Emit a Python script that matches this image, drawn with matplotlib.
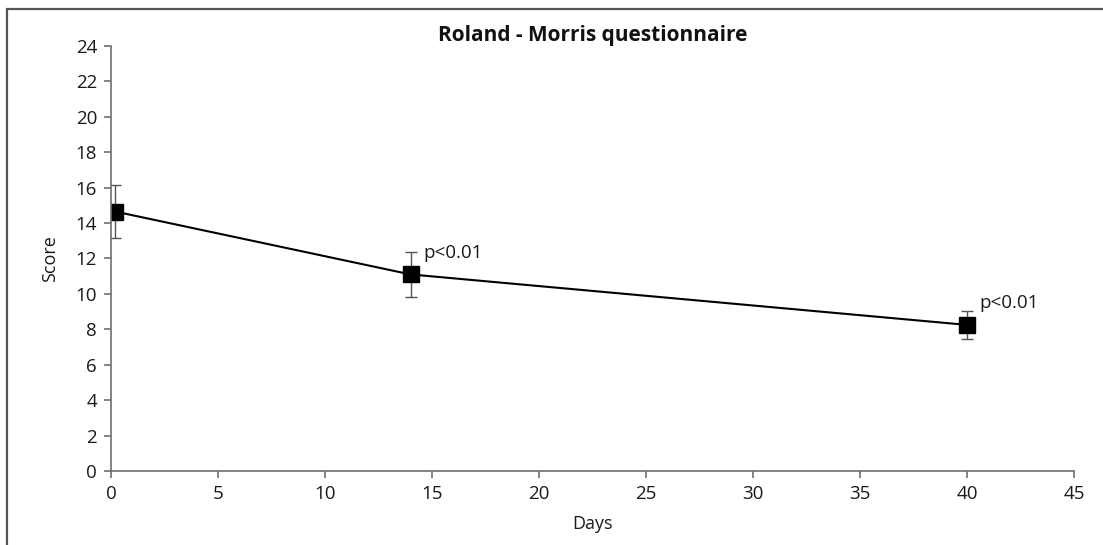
import matplotlib.pyplot as plt
from matplotlib.patches import Rectangle

days = [0.2, 14, 40]
score = [14.65, 11.1, 8.25]
score_err = [1.5, 1.25, 0.8]
notes = ["", "p<0.01", "p<0.01"]

plt.rcParams["font.family"] = ["Open Sans", "DejaVu Sans"]
grey = "#6e6e6e"
txt = "#1a1a1a"

fig = plt.figure(figsize=(11.03, 5.45), dpi=100)
ax = fig.add_axes([0.1006, 0.1358, 0.8731, 0.7798])

# outer frame around the figure
fig.patches.append(Rectangle((7 / 1103, -0.05), 1.1, 1.05 - 9 / 545,
                             transform=fig.transFigure, fill=False,
                             edgecolor="#555555", linewidth=1.6))

ax.errorbar(days, score, yerr=score_err, color="black", linewidth=1.5,
            marker="s", markersize=11, ecolor="#555555", elinewidth=1,
            capsize=4, capthick=1)

for x, y, t in zip(days, score, notes):
    if t:
        ax.annotate(t, xy=(x, y), xytext=(9, 9), textcoords="offset points",
                    fontsize=13.5, color=txt, ha="left", va="bottom")

ax.set_xlim(0, 45)
ax.set_ylim(0, 24)
ax.set_xticks(range(0, 46, 5))
ax.set_yticks(range(0, 25, 2))
for s in ["top", "right"]:
    ax.spines[s].set_visible(False)
for s in ["left", "bottom"]:
    ax.spines[s].set_color(grey)
    ax.spines[s].set_linewidth(1.2)
ax.tick_params(colors=grey, labelcolor=txt, labelsize=13.5,
               length=5, width=1.2, pad=5)

ax.set_title("Roland - Morris questionnaire", fontsize=15, fontweight="bold",
             color="#111111", pad=3)
ax.set_xlabel("Days", fontsize=13, color=txt, labelpad=9)
ax.set_ylabel("Score", fontsize=13, color=txt, labelpad=12)

fig.savefig("out.png", dpi=100)
